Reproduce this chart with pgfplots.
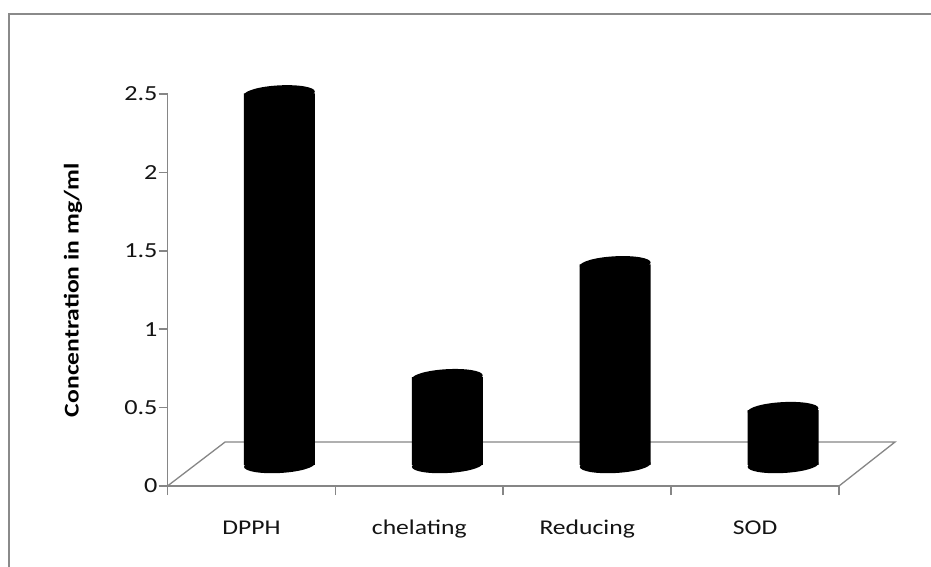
\documentclass[border=0pt]{standalone}
\usepackage{pgfplots}
\pgfplotsset{compat=1.18}
\usepackage{fontspec}
\setmainfont{Carlito}[FakeStretch=1.22]
\definecolor{axgray}{HTML}{868686}
\definecolor{framegray}{HTML}{8A8A8A}
\definecolor{txt}{HTML}{141414}
\pgfdeclareplotmark{cylcap}{%
  \pgfpathellipse{\pgfpointorigin}{\pgfqpoint{35.4pt}{1.9pt}}{\pgfqpoint{-0.45pt}{8pt}}%
  \pgfusepathqfill}
\begin{document}
\begin{tikzpicture}[x=1pt,y=1pt]
\useasboundingbox (0,0) rectangle (931,567);
\fill[white] (0,0) rectangle (931,567);
\draw[framegray, line width=2.5pt] (9,0) -- (9,553) -- (931,553);
\begin{axis}[
  at={(167.5pt,81pt)}, anchor=south west,
  scale only axis, width=671.5pt, height=392pt,
  xmin=0, xmax=4, ymin=0, ymax=2.5,
  clip=false,
  axis x line=bottom, axis y line=left,
  axis line style={-, axgray, line width=1.6pt},
  every tick/.style={axgray, line width=1.6pt},
  tick align=outside, major tick length=9pt,
  xtick={0,1,2,3,4}, xticklabels={},
  extra x ticks={0.5,1.5,2.5,3.5},
  extra x tick labels={DPPH,chelating,Reducing,SOD},
  extra x tick style={major tick length=0pt, xticklabel style={anchor=base, yshift=-49pt, text=txt, font=\fontsize{21}{25}\selectfont}},
  ytick={0,0.5,1,1.5,2,2.5},
  yticklabel style={text=txt, xshift=2.5pt, font=\fontsize{21.5}{25}\selectfont, /pgf/number format/assume math mode=true},
  ylabel={Concentration in mg/ml},
  every axis y label/.style={at={(rel axis cs:0,0.5)}, xshift=-94.5pt, rotate=90, anchor=center, text=black, font=\bfseries\fontsize{21}{25}\selectfont},
]
\draw[axgray, line width=1.3pt] (axis cs:0,0) -- (axis cs:0.3425,0.28) -- (axis cs:4.333,0.28) -- (axis cs:4,0);
\end{axis}
\begin{axis}[
  at={(195.5pt,102pt)}, anchor=south west,
  scale only axis, width=671.5pt, height=392pt,
  xmin=0, xmax=4, ymin=0, ymax=2.5,
  hide axis, clip=false,
]
\addplot[ybar, bar width=71pt, fill=black, draw=none] coordinates {(0.5,2.37) (1.5,0.56) (2.5,1.28) (3.5,0.35)};
\addplot[only marks, mark=cylcap, black] coordinates {(0.5,0) (1.5,0) (2.5,0) (3.5,0)};
\addplot[only marks, mark=cylcap, black] coordinates {(0.5,2.37) (1.5,0.56) (2.5,1.28) (3.5,0.35)};
\end{axis}
\end{tikzpicture}
\end{document}
